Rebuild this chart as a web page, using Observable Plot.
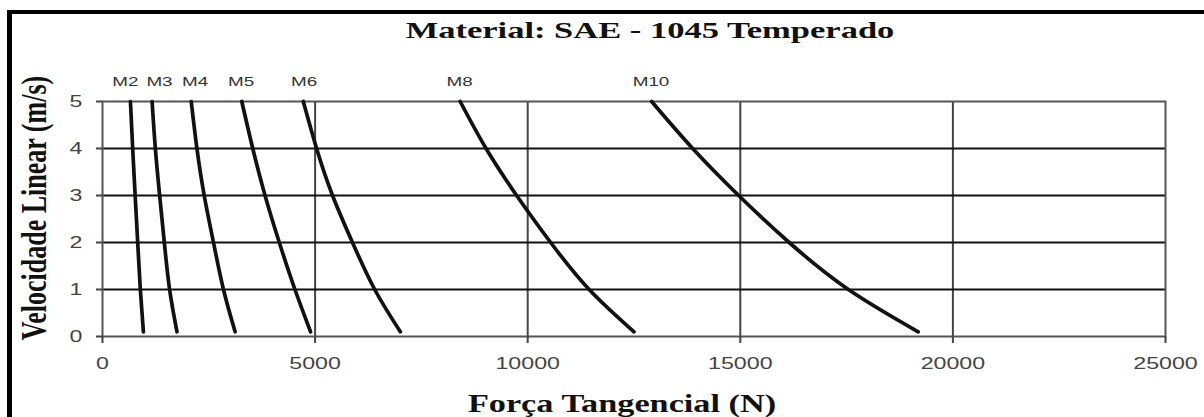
<!DOCTYPE html>
<html>
<head>
<meta charset="utf-8">
<script src="https://cdn.jsdelivr.net/npm/d3@7"></script>
<script src="https://cdn.jsdelivr.net/npm/@observablehq/plot@0.6"></script>
<style>
  html, body { margin: 0; padding: 0; background: white; }
  #wrap { position: relative; width: 1204px; height: 417px; overflow: hidden; background: white; }
  #wrap svg { position: absolute; left: 0; top: 0; }
  #border { position: absolute; left: 7px; top: 10px; width: 1210px; height: 420px;
            border-top: 4px solid #000; border-left: 5px solid #000; box-sizing: border-box; }
  .lbl { position: absolute; font-family: "Liberation Serif", "Times New Roman", serif; font-weight: bold;
         color: #111; white-space: nowrap; line-height: 1; transform-origin: center center; }
</style>
</head>
<body>
<div id="wrap"></div>
<script>
// ---- data ----
const velocity = [5, 4, 3, 2, 1, 0.1];          // Velocidade Linear (m/s)
const M2  = [657, 710, 768, 828, 890, 962];      // Força Tangencial (N)
const M3  = [1166, 1243, 1344, 1454, 1578, 1752];
const M4  = [2087, 2221, 2392, 2610, 2845, 3119];
const M5  = [3276, 3534, 3823, 4158, 4526, 4894];
const M6  = [4722, 5035, 5410, 5879, 6402, 7005];
const M8  = [8412, 9021, 9740, 10540, 11445, 12500];
const M10 = [12914, 13880, 14962, 16150, 17542, 19184];
const seriesNames = ["M2", "M3", "M4", "M5", "M6", "M8", "M10"];
const labelForce = [540, 1340, 2180, 3260, 4740, 8400, 12900];
const xTicks = [0, 5000, 10000, 15000, 20000, 25000];
const yTicks = [0, 1, 2, 3, 4, 5];
const title = "Material: SAE - 1045 Temperado";
const xLabel = "Força Tangencial (N)";
const yLabel = "Velocidade Linear (m/s)";

const seriesValues = [M2, M3, M4, M5, M6, M8, M10];
const rows = [];
seriesNames.forEach((name, i) => {
  seriesValues[i].forEach((f, j) => rows.push({series: name, force: f, v: velocity[j]}));
});
const labels = seriesNames.map((name, i) => ({name, force: labelForce[i], v: velocity[0]}));

const chart = Plot.plot({
  width: 1204,
  height: 417,
  marginLeft: 102,
  marginRight: 39,
  marginTop: 101,
  marginBottom: 81,
  x: {domain: [0, 25000], label: null},
  y: {domain: [0, 5], label: null},
  style: {fontFamily: "'Liberation Sans', Arial, sans-serif", fontSize: "16px", color: "#444", background: "white", overflow: "visible"},
  marks: [
    Plot.gridX(xTicks.slice(1, -1), {stroke: "#444", strokeOpacity: 1, strokeWidth: 2}),
    Plot.gridY(yTicks.slice(1, -1), {stroke: "#111", strokeOpacity: 1, strokeWidth: 2}),
    Plot.frame({stroke: "#555", strokeWidth: 2}),
    Plot.axisX(xTicks, {tickSize: 7, tickPadding: 14, tickFormat: d => String(d), stroke: "#444", strokeWidth: 2, fill: "#444", label: null}),
    Plot.axisY(yTicks, {tickSize: 6, tickPadding: 14, stroke: "#444", strokeWidth: 2, fill: "#444", label: null}),
    Plot.line(rows, {x: "force", y: "v", z: "series", stroke: "#111", strokeWidth: 3.7, curve: "natural", strokeLinecap: "round"}),
    Plot.text(labels, {x: "force", y: "v", text: "name", dy: -20, fontSize: 13, fill: "#333"})
  ]
});

const wrap = document.getElementById("wrap");
wrap.appendChild(chart);

// stretch svg texts horizontally like the reference
d3.select(chart).selectAll("text").each(function() {
  const len = this.getComputedTextLength();
  if (len > 0) {
    this.setAttribute("textLength", (len * 1.45).toFixed(1));
    this.setAttribute("lengthAdjust", "spacingAndGlyphs");
  }
});

const border = document.createElement("div");
border.id = "border";
wrap.appendChild(border);

function addLabel(text, fs, css) {
  const d = document.createElement("div");
  d.className = "lbl";
  d.textContent = text;
  d.style.fontSize = fs + "px";
  Object.assign(d.style, css);
  wrap.appendChild(d);
  return d;
}

addLabel(title, 23, {top: "19px", left: "650px", transform: "translateX(-50%) scaleX(1.5)"});
addLabel(xLabel, 25, {top: "391px", left: "622px", transform: "translateX(-50%) scaleX(1.37)"});
const yl = addLabel(yLabel, 26, {});
const w = yl.getBoundingClientRect().width;
yl.style.left = (35 - w / 2) + "px";
yl.style.top = (208 - 13) + "px";
yl.style.transform = "rotate(-90deg) scaleY(1.4)";
</script>
</body>
</html>
